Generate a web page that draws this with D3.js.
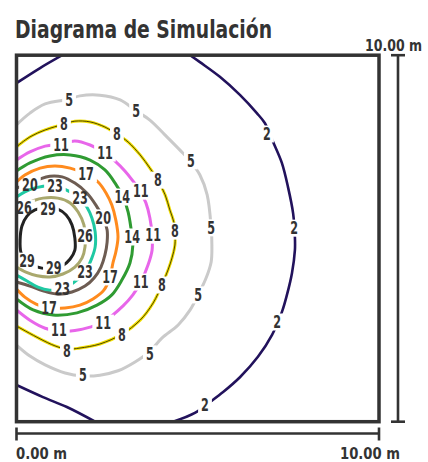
<!DOCTYPE html>
<html>
<head>
<meta charset="utf-8">
<script src="https://cdn.jsdelivr.net/npm/d3@7"></script>
<style>
  body { margin: 0; background: #fff; }
  svg { display: block; }
  text {
    font-family: "Liberation Sans Narrow", "DejaVu Sans Condensed", Roboto, sans-serif;
    font-weight: bold;
    fill: #333;
  }
</style>
</head>
<body>
<svg id="chart" width="428" height="462"></svg>
<script>
// Room size in metres and the dimension labels
const roomWidth = 10;
const roomDepth = 10;
const dimLabels = ["0.00 m", "10.00 m"];
const title = "Diagrama de Simulación";

// Isoline levels
const levels = [2, 5, 8, 11, 14, 17, 20, 23, 26, 29];

// Isoline paths as [x, y] in metres (x from the left wall, y from the bottom wall)
const iso2 = [[4.79,10],[5.06,9.81],[5.61,9.41],[6.17,8.91],[6.63,8.42],[6.85,8.15],[6.99,7.85],[7.08,7.63],[7.32,7.06],[7.49,6.40],[7.63,5.69],[7.68,5.04],[7.68,4.68],[7.60,4.06],[7.46,3.46],[7.32,2.99],[7.05,2.37],[6.66,1.77],[6.17,1.22],[5.70,0.81],[5.34,0.54],[4.92,0.24],[4.32,0]];
const iso2TopCorner = [[0,9.24],[0.65,9.65],[1.26,10]];
const iso2BottomCorner = [[0,1.00],[0.73,0.67],[1.39,0.40],[2.17,0]];
const iso5 = [[0,8.10],[0.37,8.42],[0.79,8.67],[1.45,8.80],[1.75,8.89],[2.30,8.91],[2.86,8.78],[3.30,8.48],[3.68,8.23],[4.10,7.82],[4.51,7.41],[4.81,7.09],[5.06,6.73],[5.26,6.19],[5.37,5.29],[5.39,4.82],[5.37,4.36],[5.23,3.92],[5.01,3.46],[4.79,3.05],[4.46,2.64],[4.01,2.28],[3.68,1.92],[3.27,1.63],[2.80,1.39],[2.30,1.27],[1.83,1.25],[1.34,1.33],[0.79,1.55],[0.37,1.79],[0,2.09]];
const iso8 = [[0,7.50],[0.37,7.77],[0.79,7.96],[1.31,8.12],[1.61,8.20],[2.03,8.18],[2.44,8.04],[2.77,7.85],[3.08,7.63],[3.41,7.28],[3.68,6.92],[3.90,6.59],[4.10,6.19],[4.23,5.78],[4.34,5.45],[4.37,5.20],[4.37,4.82],[4.29,4.47],[4.18,4.14],[4.01,3.73],[3.77,3.24],[3.41,2.77],[2.91,2.39],[2.30,2.12],[1.75,2.01],[1.39,1.98],[1.06,2.07],[0.65,2.26],[0,2.61]];
const iso11 = [[0,7.14],[0.37,7.36],[0.79,7.52],[1.23,7.58],[1.61,7.66],[2.03,7.55],[2.44,7.33],[2.72,7.11],[2.99,6.84],[3.21,6.57],[3.41,6.29],[3.57,5.97],[3.68,5.56],[3.74,5.09],[3.74,4.68],[3.63,4.28],[3.43,3.81],[3.21,3.46],[2.94,3.16],[2.39,2.72],[2.03,2.58],[1.61,2.49],[1.17,2.47],[0.79,2.55],[0.37,2.77],[0,3.05]];
const iso14 = [[0,6.84],[0.37,7.06],[0.92,7.25],[1.48,7.28],[2.03,7.14],[2.44,6.87],[2.72,6.51],[2.94,6.13],[3.08,5.72],[3.19,5.04],[3.21,4.82],[3.13,4.33],[2.91,3.87],[2.63,3.46],[2.22,3.18],[1.67,2.97],[1.01,2.91],[0.46,3.05],[0,3.35]];
const iso17 = [[0,6.54],[0.23,6.73],[0.65,6.92],[1.06,6.98],[1.48,6.92],[1.92,6.76],[2.25,6.54],[2.47,6.24],[2.63,5.91],[2.74,5.50],[2.80,5.04],[2.74,4.63],[2.66,4.33],[2.58,3.95],[2.41,3.59],[2.11,3.35],[1.75,3.18],[1.34,3.10],[0.90,3.10],[0.54,3.21],[0.23,3.40],[0,3.62]];
const iso20 = [[0,6.38],[0.37,6.49],[0.65,6.62],[0.92,6.70],[1.26,6.68],[1.61,6.51],[1.94,6.24],[2.19,5.91],[2.39,5.56],[2.50,5.23],[2.50,4.90],[2.44,4.55],[2.33,4.22],[2.14,3.92],[1.89,3.70],[1.53,3.54],[1.14,3.48],[0.73,3.57],[0.37,3.70],[0,3.81]];
const iso23 = [[0,6.13],[0.23,6.27],[0.51,6.38],[1.06,6.43],[1.31,6.35],[1.53,6.24],[1.75,6.10],[1.94,5.86],[2.08,5.56],[2.17,5.18],[2.17,4.77],[2.08,4.47],[1.89,4.08],[1.67,3.87],[1.48,3.73],[1.26,3.62],[0.92,3.59],[0.59,3.67],[0.29,3.84],[0,4.00]];
const iso26 = [[0,5.86],[0.21,5.94],[0.43,6.02],[0.73,6.10],[1.14,6.10],[1.48,5.97],[1.70,5.72],[1.86,5.37],[1.89,5.07],[1.89,4.77],[1.81,4.47],[1.61,4.22],[1.28,4.03],[0.92,3.95],[0.57,3.98],[0.26,4.08],[0,4.22]];
const iso29 = [[0.12,4.63],[0.10,4.96],[0.15,5.34],[0.29,5.61],[0.51,5.78],[0.87,5.83],[1.14,5.80],[1.37,5.64],[1.53,5.37],[1.61,5.01],[1.61,4.68],[1.48,4.44],[1.26,4.25],[1.03,4.19],[0.70,4.19],[0.37,4.30],[0.21,4.44]];

// Label anchors along each isoline, [x, y] in metres
const labels2 = [[6.91,7.85],[7.66,5.28],[7.19,2.72],[5.20,0.46]];
const labels5 = [[1.45,8.78],[3.30,8.48],[4.81,7.12],[5.37,5.29],[5.01,3.46],[3.68,1.85],[1.83,1.27]];
const labels8 = [[1.31,8.12],[2.77,7.85],[3.90,6.59],[4.37,5.20],[4.01,3.73],[2.91,2.37],[1.39,1.93]];
const labels11 = [[1.23,7.55],[2.44,7.33],[3.43,6.29],[3.77,5.09],[3.43,3.81],[2.39,2.69],[1.17,2.50]];
const labels14 = [[2.92,6.13],[3.19,5.04]];
const labels17 = [[1.92,6.76],[2.58,3.95],[0.90,3.10]];
const labels20 = [[0.37,6.46],[2.39,5.56]];
const labels23 = [[1.06,6.43],[1.75,6.10],[1.89,4.08],[1.26,3.62]];
const labels26 = [[0.21,5.83],[1.89,5.07]];
const labels29 = [[0.87,5.80],[0.29,4.38],[1.03,4.19]];

const isolines = [
  { level: 2,  paths: [iso2, iso2TopCorner, iso2BottomCorner], labels: labels2 },
  { level: 5,  paths: [iso5],  labels: labels5 },
  { level: 8,  paths: [iso8],  labels: labels8 },
  { level: 11, paths: [iso11], labels: labels11 },
  { level: 14, paths: [iso14], labels: labels14 },
  { level: 17, paths: [iso17], labels: labels17 },
  { level: 20, paths: [iso20], labels: labels20 },
  { level: 23, paths: [iso23], labels: labels23 },
  { level: 26, paths: [iso26], labels: labels26 },
  { level: 29, paths: [iso29], labels: labels29, closed: true }
];

// Line colours per level
const color = d3.scaleOrdinal()
  .domain(levels)
  .range(["#22125c", "#cacaca", "#f2df00", "#e866ea", "#2f9b32", "#ff8b1e", "#6d5c52", "#1fc9a3", "#a9a86d", "#222222"]);

const svg = d3.select("#chart");
const x = d3.scaleLinear().domain([0, roomWidth]).range([16.5, 379]);
const y = d3.scaleLinear().domain([0, roomDepth]).range([421.7, 55.2]);

const defs = svg.append("defs");
defs.append("clipPath").attr("id", "room")
  .append("rect")
  .attr("x", x(0)).attr("y", y(roomDepth))
  .attr("width", x(roomWidth) - x(0)).attr("height", y(0) - y(roomDepth));

// Each isoline gets a mask that opens gaps under its own labels
const labelW = d => String(d).length * 7.8;
isolines.forEach(s => {
  const m = defs.append("mask").attr("id", "gap" + s.level)
    .attr("maskUnits", "userSpaceOnUse")
    .attr("x", 0).attr("y", 0).attr("width", 428).attr("height", 462);
  m.append("rect").attr("width", 428).attr("height", 462).attr("fill", "#fff");
  m.selectAll("rect.g").data(s.labels).join("rect").attr("class", "g")
    .attr("x", d => x(d[0]) - labelW(s.level) / 2 - 3)
    .attr("y", d => y(d[1]) - 8.5)
    .attr("width", labelW(s.level) + 6)
    .attr("height", 17)
    .attr("fill", "#000");
});

const lineOpen = d3.line().x(d => x(d[0])).y(d => y(d[1])).curve(d3.curveCatmullRom.alpha(0.5));
const lineClosed = d3.line().x(d => x(d[0])).y(d => y(d[1])).curve(d3.curveCatmullRomClosed.alpha(0.5));

const plot = svg.append("g").attr("clip-path", "url(#room)");

isolines.forEach(s => {
  const g = plot.append("g").attr("mask", `url(#gap${s.level})`);
  const gen = s.closed ? lineClosed : lineOpen;
  g.selectAll("path.iso").data(s.paths).join("path").attr("class", "iso")
    .attr("d", gen)
    .attr("fill", "none")
    .attr("stroke", color(s.level))
    .attr("stroke-width", s.level === 2 ? 2.6 : 3)
    .attr("stroke-linecap", "butt");
  if (s.level === 8) {
    // the 8 line carries a thin dark core
    g.selectAll("path.core").data(s.paths).join("path").attr("class", "core")
      .attr("d", gen)
      .attr("fill", "none")
      .attr("stroke", "#3a3200")
      .attr("stroke-width", 0.9);
  }
});

// Isoline value labels
isolines.forEach(s => {
  svg.append("g").selectAll("text").data(s.labels).join("text")
    .attr("x", d => x(d[0]))
    .attr("y", d => y(d[1]) + 6.2)
    .attr("text-anchor", "middle")
    .attr("font-size", 17)
    .attr("textLength", labelW(s.level))
    .attr("lengthAdjust", "spacingAndGlyphs")
    .text(s.level);
});

// Room outline
svg.append("rect")
  .attr("x", x(0)).attr("y", y(roomDepth))
  .attr("width", x(roomWidth) - x(0)).attr("height", y(0) - y(roomDepth))
  .attr("fill", "none").attr("stroke", "#333").attr("stroke-width", 3.5);

// Dimension lines
const dim = svg.append("g").attr("stroke", "#333").attr("stroke-width", 2.6).attr("fill", "none");
const vx = 398, hy = 433.5;
dim.append("line").attr("x1", vx).attr("x2", vx).attr("y1", y(0)).attr("y2", y(roomDepth));
dim.append("line").attr("x1", vx - 7).attr("x2", vx + 7).attr("y1", y(0)).attr("y2", y(0));
dim.append("line").attr("x1", vx - 7).attr("x2", vx + 7).attr("y1", y(roomDepth)).attr("y2", y(roomDepth));
dim.append("line").attr("x1", x(0)).attr("x2", x(roomWidth)).attr("y1", hy).attr("y2", hy);
dim.append("line").attr("x1", x(0)).attr("x2", x(0)).attr("y1", hy - 6).attr("y2", hy + 7);
dim.append("line").attr("x1", x(roomWidth)).attr("x2", x(roomWidth)).attr("y1", hy - 6).attr("y2", hy + 7);

// Texts
svg.append("text").attr("x", 15).attr("y", 38)
  .attr("font-size", 25).attr("textLength", 257).attr("lengthAdjust", "spacingAndGlyphs")
  .text(title);
svg.append("text").attr("x", 422).attr("y", 50.5).attr("text-anchor", "end")
  .attr("font-size", 15.5).attr("textLength", 57).attr("lengthAdjust", "spacingAndGlyphs")
  .text(dimLabels[1]);
svg.append("text").attr("x", 16).attr("y", 459).attr("text-anchor", "start")
  .attr("font-size", 15).attr("textLength", 51).attr("lengthAdjust", "spacingAndGlyphs")
  .text(dimLabels[0]);
svg.append("text").attr("x", 400).attr("y", 459).attr("text-anchor", "end")
  .attr("font-size", 15).attr("textLength", 60).attr("lengthAdjust", "spacingAndGlyphs")
  .text(dimLabels[1]);
</script>
</body>
</html>
